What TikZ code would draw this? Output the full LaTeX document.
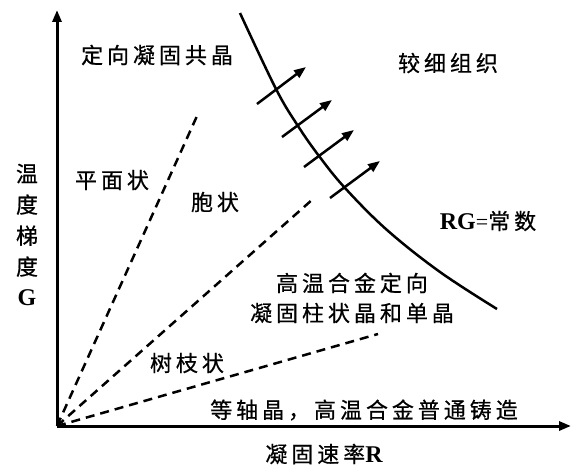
\documentclass[tikz,border=0pt]{standalone}
\usepackage{fontspec}
\setmainfont{Liberation Serif}
\newfontfamily\cjk[LetterSpace=18,FakeBold=0.6]{Noto Sans CJK SC}
\usetikzlibrary{arrows.meta}
\begin{document}
\begin{tikzpicture}[x=1pt,y=-1pt,
  lbl/.style={font=\cjk\fontsize{22}{30}\selectfont, inner sep=0pt, anchor=center},
  axisline/.style={line width=3pt, -{Triangle[length=12pt,width=9pt]}},
  bound/.style={line width=2.5pt, dash pattern=on 9pt off 6pt},
  curveline/.style={line width=2.5pt},
  growarrow/.style={line width=2.5pt, -{Triangle[length=12pt,width=9pt]}}]
\useasboundingbox (0,0) rectangle (571,468);
% axes
\coordinate (O) at (57,426);
\coordinate (ytip) at (57,10);
\coordinate (xtip) at (571,426);
\draw[axisline] (O) -- (ytip);
\draw[axisline] (O) -- (xtip);
% dashed boundaries
\coordinate (d1) at (197,116);
\coordinate (d2) at (313,199);
\coordinate (d3) at (378,334);
\draw[bound] (O) -- (d1);
\draw[bound] (O) -- (d2);
\draw[bound] (O) -- (d3);
% RG = const curve
\draw[curveline] plot[smooth, tension=0.6] coordinates {(240,13) (276,89) (298,126) (319,156) (345,188) (387,230) (440,272) (497,309)};
% growth arrows
\coordinate (a1s) at (257,104); \coordinate (a1e) at (306,67);
\coordinate (a2s) at (282,137); \coordinate (a2e) at (332,100);
\coordinate (a3s) at (304,167); \coordinate (a3e) at (354,130);
\coordinate (a4s) at (330,198); \coordinate (a4e) at (380,161);
\draw[growarrow] (a1s) -- (a1e);
\draw[growarrow] (a2s) -- (a2e);
\draw[growarrow] (a3s) -- (a3e);
\draw[growarrow] (a4s) -- (a4e);
% labels
\node[lbl] (t1) at (157,55) {定向凝固共晶};
\node[lbl] (t2) at (448,63) {较细组织};
\node[lbl] (t3) at (112,180) {平面状};
\node[lbl] (t4) at (215,202) {胞状};
\node[lbl] (t5) at (488,221) {{\rmfamily\bfseries\fontsize{24}{30}\selectfont RG}{\rmfamily\fontsize{22}{30}\selectfont =}常数};
\node[lbl] (t6) at (352,283) {高温合金定向};
\node[lbl] (t7) at (352,313) {凝固柱状晶和单晶};
\node[lbl] (t8) at (187,363) {树枝状};
\node[lbl] (t9) at (364,410) {等轴晶，高温合金普通铸造};
\node[lbl] (t10) at (324,454) {凝固速率{\rmfamily\bfseries\fontsize{24}{30}\selectfont R}};
\node[lbl, align=center, font=\cjk\fontsize{22}{31}\selectfont] (ylab) at (27,235) {温\\度\\梯\\度\\{\rmfamily\bfseries\fontsize{24}{30}\selectfont G}};
\end{tikzpicture}
\end{document}
